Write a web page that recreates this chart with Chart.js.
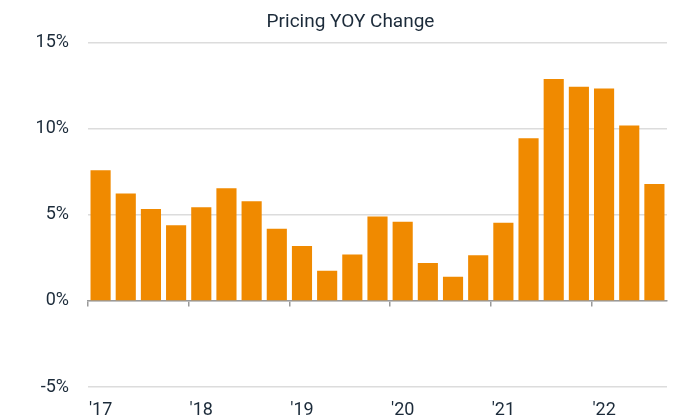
<!DOCTYPE html>
<html>
<head>
<meta charset="utf-8">
<script src="https://cdn.jsdelivr.net/npm/chart.js@4.4.0/dist/chart.umd.min.js"></script>
<style>
  html, body { margin: 0; padding: 0; background: #fff; }
  #wrap { width: 679px; height: 420px; }
</style>
</head>
<body>
<div id="wrap"><canvas id="chart"></canvas></div>
<script>
// quarterly data, Q1 2017 - Q3 2022
const quarters = [
    'Q1 2017', 'Q2 2017', 'Q3 2017', 'Q4 2017',
    'Q1 2018', 'Q2 2018', 'Q3 2018', 'Q4 2018',
    'Q1 2019', 'Q2 2019', 'Q3 2019', 'Q4 2019',
    'Q1 2020', 'Q2 2020', 'Q3 2020', 'Q4 2020',
    'Q1 2021', 'Q2 2021', 'Q3 2021', 'Q4 2021',
    'Q1 2022', 'Q2 2022', 'Q3 2022'
];
const pricingChange = [
    7.6, 6.25, 5.35, 4.4,
    5.45, 6.55, 5.8, 4.2,
    3.2, 1.75, 2.7, 4.9,
    4.6, 2.2, 1.4, 2.65,
    4.55, 9.45, 12.9, 12.45,
    12.35, 10.2, 6.8
];
const yearLabels = ["'17", "'18", "'19", "'20", "'21", "'22"];
const yMin = -5;
const yMax = 15;
const yStep = 5;

const textColor = '#1c2b3a';
const axisGray = '#9a9a9a';

new Chart(document.getElementById('chart'), {
    type: 'bar',
    data: {
        labels: quarters,
        datasets: [{
            label: 'Pricing YOY Change',
            data: pricingChange,
            backgroundColor: '#f08a00',
            borderWidth: 0,
            barPercentage: 0.8,
            categoryPercentage: 1
        }]
    },
    options: {
        responsive: true,
        maintainAspectRatio: false,
        animation: false,
        layout: {
            padding: { left: 34, right: 12, top: 0, bottom: 0 }
        },
        plugins: {
            legend: { display: false },
            tooltip: { enabled: false },
            title: {
                display: true,
                text: 'Pricing YOY Change',
                color: textColor,
                font: { family: 'Roboto', size: 19, weight: 'normal' },
                padding: { top: 11, bottom: 9 }
            }
        },
        scales: {
            // year labels along the bottom
            x: {
                type: 'category',
                position: 'bottom',
                afterFit: scale => { scale.height = 33; },
                grid: { display: false, drawTicks: false },
                border: { display: false },
                ticks: {
                    autoSkip: false,
                    maxRotation: 0,
                    padding: 13,
                    color: textColor,
                    font: { family: 'Roboto', size: 18 },
                    callback: (val, i) => (i % 4 === 0 ? yearLabels[i / 4] : '')
                }
            },
            // baseline at 0% with year tick marks
            x2: {
                type: 'category',
                position: { y: 0 },
                offset: true,
                z: 1,
                afterFit: scale => { scale.height = 0; },
                ticks: { display: false },
                border: { display: true, color: axisGray, width: 1.5 },
                grid: {
                    offset: true,
                    drawOnChartArea: false,
                    tickLength: 5,
                    lineWidth: 1.5,
                    tickColor: ctx => (ctx.index % 4 === 0 ? axisGray : 'rgba(0,0,0,0)')
                }
            },
            y: {
                min: yMin,
                max: yMax,
                afterFit: scale => { scale.width = 54; },
                border: { display: false },
                grid: { color: '#dcdcdc', lineWidth: 1.5, drawTicks: false },
                ticks: {
                    stepSize: yStep,
                    padding: 19,
                    color: textColor,
                    font: { family: 'Roboto', size: 18 },
                    callback: v => v + '%'
                }
            }
        }
    }
});
</script>
</body>
</html>
